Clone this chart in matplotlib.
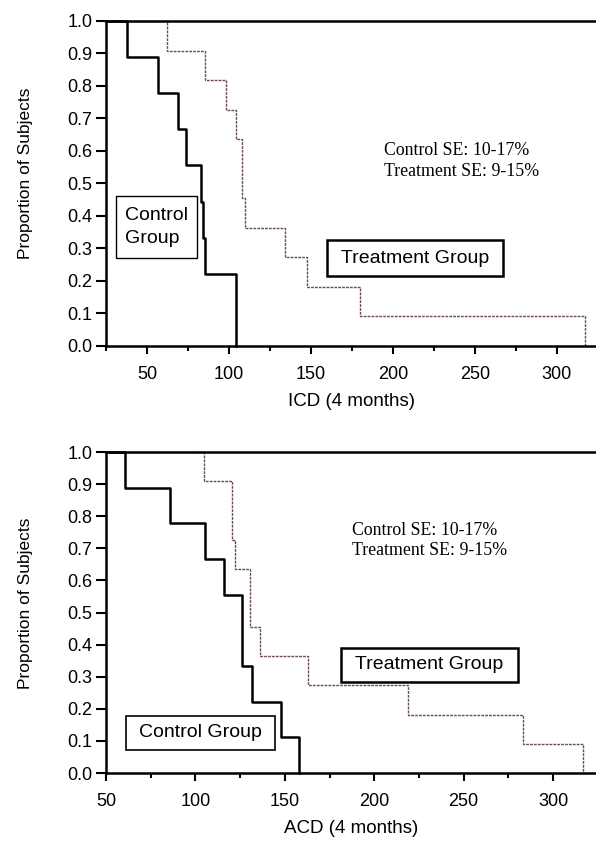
import matplotlib
matplotlib.use("Agg")
from matplotlib import pyplot as plt
from matplotlib.patches import Rectangle
from matplotlib.ticker import MultipleLocator, FormatStrFormatter

# ICD panel (top)
icd_ctrl_t = [37.5, 56.5, 69, 73.5, 83, 84, 85.5, 104.5]
icd_ctrl_s = [0.889, 0.778, 0.667, 0.556, 0.444, 0.333, 0.222, 0.0]
icd_trt_t = [62.5, 85.5, 98, 104.5, 108, 110, 134, 147.5, 180, 317]
icd_trt_s = [0.909, 0.818, 0.727, 0.636, 0.455, 0.364, 0.273, 0.182, 0.091, 0.0]

# ACD panel (bottom)
acd_ctrl_t = [60.5, 86, 105.5, 116, 126, 131.5, 148, 158]
acd_ctrl_s = [0.889, 0.778, 0.667, 0.556, 0.333, 0.222, 0.111, 0.0]
acd_trt_t = [105, 120.5, 122, 130.5, 136, 163, 219, 283, 317]
acd_trt_s = [0.909, 0.727, 0.636, 0.455, 0.364, 0.273, 0.182, 0.091, 0.0]

se_text = "Control SE: 10-17%\nTreatment SE: 9-15%"

sans = "Liberation Sans"
serif = "Liberation Serif"

fig = plt.figure(figsize=(5.96, 8.42), dpi=100)
ax1 = fig.add_axes([0.1779, 0.5891, 0.8221, 0.386])
ax2 = fig.add_axes([0.1779, 0.0819, 0.8221, 0.3812])


def style(ax, xmin, xlabel):
    ax.set_xlim(xmin, 324)
    ax.set_ylim(0, 1.0)
    ax.spines["right"].set_visible(False)
    for s in ["left", "bottom", "top"]:
        ax.spines[s].set_linewidth(1.8)
    ax.xaxis.set_major_locator(MultipleLocator(50))
    ax.xaxis.set_minor_locator(MultipleLocator(25))
    ax.yaxis.set_major_locator(MultipleLocator(0.1))
    ax.yaxis.set_major_formatter(FormatStrFormatter("%.1f"))
    ax.tick_params(axis="y", direction="out", length=7, width=1.5, pad=3, labelsize=13)
    ax.tick_params(axis="x", which="major", direction="out", length=6, width=1.5, pad=8.5, labelsize=13)
    ax.tick_params(axis="x", which="minor", direction="out", length=3.5, width=1.5)
    for lab in ax.get_xticklabels() + ax.get_yticklabels():
        lab.set_family(sans)
    ax.set_xlabel(xlabel, fontsize=13.5, family=sans, labelpad=7)
    ax.set_ylabel("Proportion of Subjects", fontsize=12.5, family=sans)
    ax.yaxis.set_label_coords(-0.15, 0.53)


def curves(ax, xmin, ct, cs, tt, ts):
    ax.step([xmin] + tt, [1.0] + ts, where="post", color="#6b4c4c",
            lw=1.0, linestyle=(0, (2, 0.8)), clip_on=False)
    ax.step([xmin] + ct, [1.0] + cs, where="post", color="black", lw=1.8, clip_on=False)


def box(ax, x0, y0, x1, y1, label, lw=1.2, ls=1.2):
    ax.add_patch(Rectangle((x0, y0), x1 - x0, y1 - y0, transform=ax.transAxes,
                           fill=False, edgecolor="black", lw=lw, zorder=5))
    ax.text((x0 + x1) / 2, (y0 + y1) / 2, label, transform=ax.transAxes,
            ha="center", va="center", fontsize=14, family=sans,
            multialignment="left", linespacing=ls, zorder=6)


curves(ax1, 25, icd_ctrl_t, icd_ctrl_s, icd_trt_t, icd_trt_s)
style(ax1, 25, "ICD (4 months)")
box(ax1, 0.0198, 0.27, 0.185, 0.4615, "Control\nGroup", lw=1.0, ls=1.45)
box(ax1, 0.450, 0.215, 0.811, 0.326, "Treatment Group", lw=1.8)
ax1.text(194.5, 0.569, se_text, ha="left", va="center", fontsize=12.8,
         family=serif, linespacing=1.25)

curves(ax2, 50, acd_ctrl_t, acd_ctrl_s, acd_trt_t, acd_trt_s)
style(ax2, 50, "ACD (4 months)")
box(ax2, 0.040, 0.0717, 0.345, 0.1785, "Control Group", lw=1.2)
box(ax2, 0.480, 0.284, 0.840, 0.390, "Treatment Group", lw=1.8)
ax2.text(187.4, 0.725, se_text, ha="left", va="center", fontsize=12.8,
         family=serif, linespacing=1.25)

fig.savefig("out.png", dpi=100)
